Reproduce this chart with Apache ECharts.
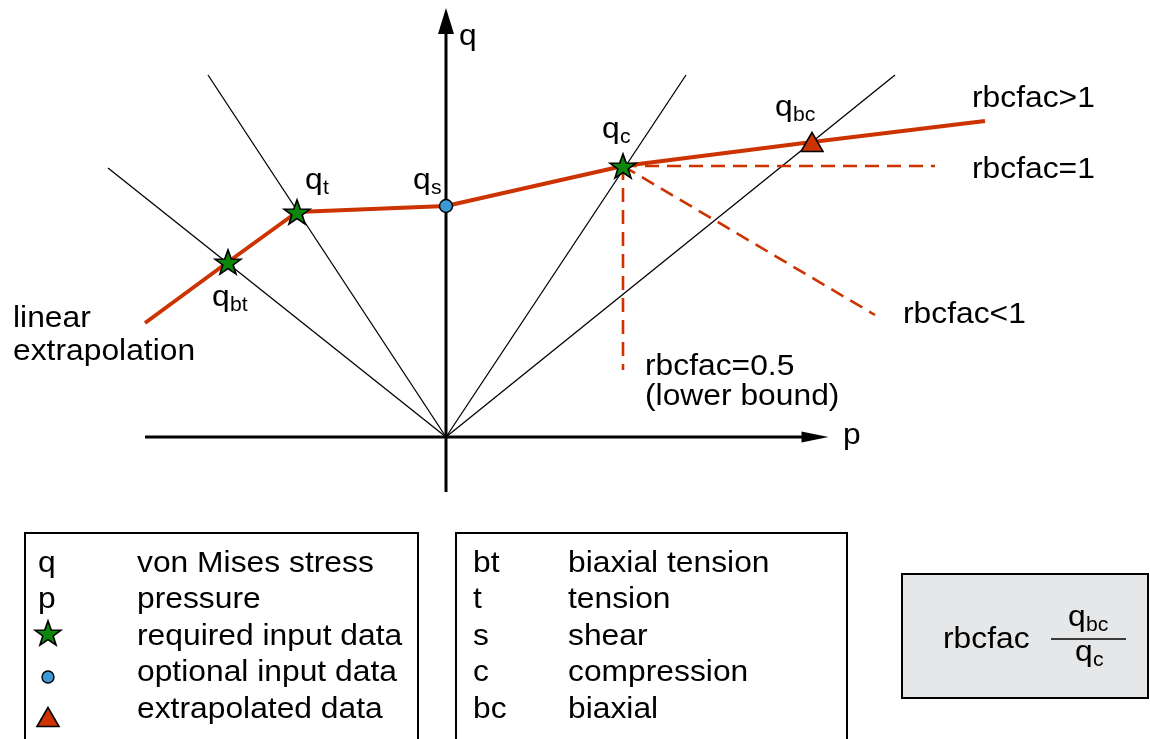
<!DOCTYPE html>
<html>
<head>
<meta charset="UTF-8">
<title>rbcfac</title>
<style>html,body{margin:0;padding:0;background:#fff}</style>
</head>
<body>
<div id="main" style="width:1150px;height:739px"></div>
<script src="https://cdn.jsdelivr.net/npm/echarts@6/dist/echarts.min.js"></script>
<script>
// diagram values, p to the right and q upwards, origin where the axes cross
var pointNames = ['qbt', 'qt', 'qs', 'qc', 'qbc'];
var pointP = [-2.18, -1.49, 0, 1.77, 3.66];
var pointQ = [1.75, 2.25, 2.31, 2.71, 2.95];

// red failure curve with its linear extrapolation at both ends
var curveP = [-3.01, -2.18, -1.49, 0, 1.77, 3.66, 5.39];
var curveQ = [1.14, 1.75, 2.25, 2.31, 2.71, 2.95, 3.16];

// thin rays from the origin through qbt, qt, qc, qbc
var rayEndP = [-3.38, -2.38, 2.40, 4.49];
var rayEndQ = [2.69, 3.62, 3.62, 3.62];

// dashed branches from qc: rbcfac=1, rbcfac<1, rbcfac=0.5
var dashEndP = [4.89, 4.29, 1.77];
var dashEndQ = [2.71, 1.22, 0.67];

var pAxisRange = [-3.01, 3.69];
var qAxisRange = [-0.55, 4.16];

var legendSymbols = ['q', 'p'];
var legendMeanings = ['von Mises stress', 'pressure', 'required input data', 'optional input data', 'extrapolated data'];
var subscriptKeys = ['bt', 't', 's', 'c', 'bc'];
var subscriptMeanings = ['biaxial tension', 'tension', 'shear', 'compression', 'biaxial'];

var RED = '#cc3300';
var GREEN = '#0b870b';
var BLUE = '#3d99d6';
var FONT = '"Liberation Sans", Arial, Helvetica, sans-serif';
var STAR = 'path://M10 0 L12.35 6.76 L19.51 6.91 L13.8 11.24 L15.88 18.09 L10 14 L4.12 18.09 L6.2 11.24 L0.49 6.91 L7.65 6.76 Z';

var chart = echarts.init(document.getElementById('main'), null, {renderer: 'canvas'});

function pt(i) { return [pointP[i], pointQ[i]]; }

// text placed by baseline; canvas "middle" sits ~0.35em above the baseline
function txt(s, x, base, size) {
  size = size || 30;
  return {
    type: 'text', x: x, y: base - 0.35 * size, z: 10, scaleX: 1.06,
    style: {text: s, fontSize: size, fontFamily: FONT, fill: '#000', verticalAlign: 'middle', align: 'left'}
  };
}
function qsub(sub, x, base) {
  return [txt('q', x, base, 30), txt(sub, x + 18, base + 4, 20)];
}

var graphics = [];
// annotations
graphics.push(txt('q', 459, 47));
graphics.push(txt('p', 843, 446));
graphics = graphics.concat(qsub('bt', 212, 308), qsub('t', 305, 191), qsub('s', 413, 191),
  qsub('c', 602, 140), qsub('bc', 775, 118));
graphics.push(txt('rbcfac>1', 972, 109));
graphics.push(txt('rbcfac=1', 972, 180));
graphics.push(txt('rbcfac<1', 903, 325));
graphics.push(txt('rbcfac=0.5', 645, 377));
graphics.push(txt('(lower bound)', 645, 407));
graphics.push(txt('linear', 13, 329));
graphics.push(txt('extrapolation', 13, 362));

// legend boxes
graphics.push({type: 'rect', z: 1, shape: {x: 25, y: 533, width: 393, height: 230}, style: {fill: 'none', stroke: '#000', lineWidth: 2}});
graphics.push({type: 'rect', z: 1, shape: {x: 456, y: 533, width: 391, height: 230}, style: {fill: 'none', stroke: '#000', lineWidth: 2}});
graphics.push({type: 'rect', z: 1, shape: {x: 902, y: 574, width: 246, height: 124}, style: {fill: '#e6e7e9', stroke: '#000', lineWidth: 2}});

var rowBase = [574, 610, 647, 683, 720];
legendSymbols.forEach(function (s, i) { graphics.push(txt(s, 38, rowBase[i])); });
legendMeanings.forEach(function (s, i) { graphics.push(txt(s, 137, rowBase[i])); });
subscriptKeys.forEach(function (s, i) { graphics.push(txt(s, 473, rowBase[i])); });
subscriptMeanings.forEach(function (s, i) { graphics.push(txt(s, 568, rowBase[i])); });

graphics.push(txt('rbcfac', 943, 650));
graphics.push({type: 'line', z: 10, shape: {x1: 1051, y1: 639, x2: 1126, y2: 639}, style: {stroke: '#000', lineWidth: 1.5}});
graphics = graphics.concat(qsub('bc', 1068, 628), qsub('c', 1075, 663));

var series = [];
function seg(data, color, width, type, z) {
  return {type: 'line', data: data, symbol: 'none', silent: true, z: z || 2,
    lineStyle: {color: color, width: width, type: type || 'solid', cap: 'butt'}};
}
series.push(seg([[pAxisRange[0], 0], [pAxisRange[1], 0]], '#000', 3));
series.push(seg([[0, qAxisRange[0]], [0, qAxisRange[1]]], '#000', 3));
rayEndP.forEach(function (p, i) { series.push(seg([[0, 0], [p, rayEndQ[i]]], '#000', 1.3)); });
dashEndP.forEach(function (p, i) {
  series.push(seg([pt(3), [p, dashEndQ[i]]], RED, 2.6, [14, 8], 3));
});
series.push(seg(curveP.map(function (p, i) { return [p, curveQ[i]]; }), RED, 4, 'solid', 4));

// arrow heads
series.push({type: 'scatter', z: 5, symbol: 'triangle', symbolSize: [16, 26], data: [[0, qAxisRange[1]]],
  itemStyle: {color: '#000', opacity: 1}});
series.push({type: 'scatter', z: 5, symbol: 'triangle', symbolSize: [11, 27], symbolRotate: -90,
  data: [[pAxisRange[1], 0]], itemStyle: {color: '#000', opacity: 1}});

// markers on the curve
var starStyle = {color: GREEN, borderColor: '#000', borderWidth: 1.6, opacity: 1};
var dotStyle = {color: BLUE, borderColor: '#000', borderWidth: 1.4, opacity: 1};
var triStyle = {color: RED, borderColor: '#000', borderWidth: 1.6, opacity: 1};
series.push({type: 'scatter', z: 6, symbol: STAR, symbolSize: [26, 24], data: [pt(0), pt(1), pt(3)], itemStyle: starStyle});
series.push({type: 'scatter', z: 6, symbol: 'circle', symbolSize: 13, data: [pt(2)], itemStyle: dotStyle});
series.push({type: 'scatter', z: 6, symbol: 'triangle', symbolSize: [22, 19], data: [pt(4)], itemStyle: triStyle});

// legend markers (in the same value space)
series.push({type: 'scatter', z: 6, symbol: STAR, symbolSize: [26, 24], data: [[-3.98, -1.96]], itemStyle: starStyle});
series.push({type: 'scatter', z: 6, symbol: 'circle', symbolSize: 12, data: [[-3.98, -2.40]], itemStyle: dotStyle});
series.push({type: 'scatter', z: 6, symbol: 'triangle', symbolSize: [22, 19], data: [[-3.98, -2.80]], itemStyle: triStyle});

var option = {
  animation: false,
  grid: {left: 0, right: 0, top: 0, bottom: 0},
  xAxis: {type: 'value', min: -4.46, max: 7.04, show: false},
  yAxis: {type: 'value', min: -3.02, max: 4.37, show: false},
  series: series,
  graphic: graphics
};
chart.setOption(option);
</script>
</body>
</html>
